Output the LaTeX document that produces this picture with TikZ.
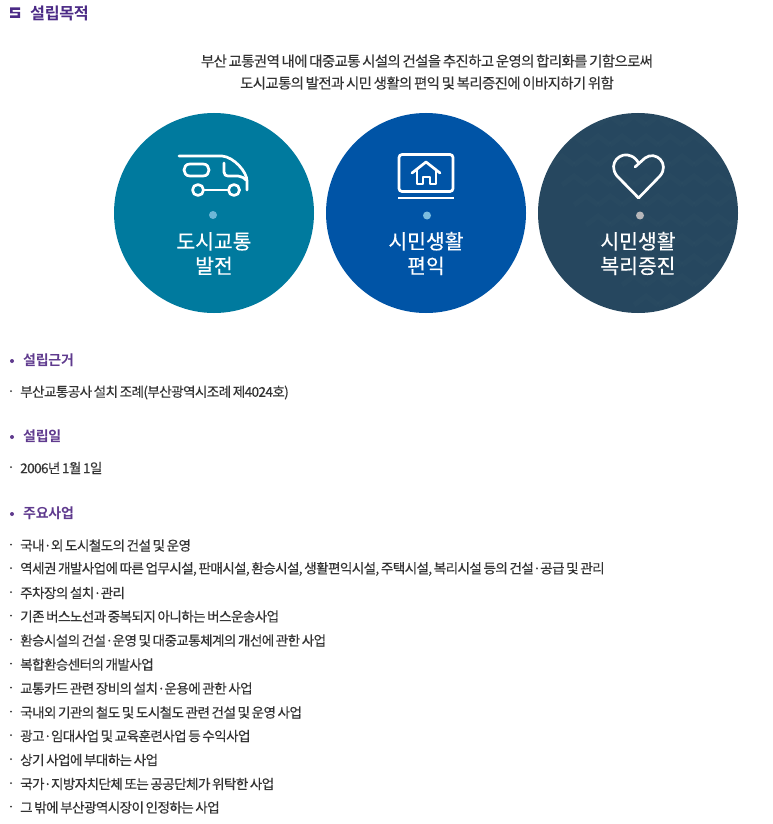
\documentclass[tikz,border=0pt]{standalone}
\usepackage{fontspec}
\setmainfont{Noto Sans CJK KR}[LetterSpace=-4.5,FakeBold=0.25,WordSpace=0.65]
\newfontfamily\boldkr{Noto Sans CJK KR}[LetterSpace=-2,BoldFont={Noto Sans CJK KR Bold}]
\newfontfamily\circlekr{Noto Sans CJK KR}[FakeBold=0.35]
\definecolor{bodytext}{HTML}{333333}
\definecolor{headpurple}{HTML}{5F3A8E}
\definecolor{titlepurple}{HTML}{4B2A86}
\definecolor{tealc}{HTML}{007A9E}
\definecolor{bluec}{HTML}{0054A6}
\definecolor{navyc}{HTML}{26475F}
\definecolor{dota}{HTML}{6DB6D6}
\definecolor{dotb}{HTML}{7CBDDF}
\definecolor{dotc}{HTML}{B7B7BA}
\tikzset{x=1pt,y=-1pt,
 bodyline/.style={anchor=west,inner sep=0pt,text=bodytext,font=\fontsize{13.58}{15}\selectfont},
 centerline/.style={anchor=center,inner sep=0pt,text=bodytext,font=\fontsize{14.47}{16}\selectfont},
 headline/.style={anchor=west,inner sep=0pt,text=headpurple,font=\boldkr\bfseries\fontsize{14}{16}\selectfont},
 circlelabel/.style={anchor=center,inner sep=0pt,text=white,align=center,font=\circlekr\fontsize{20.4}{24.5}\selectfont},
 icon/.style={draw=white,line width=2.7pt,line cap=round,line join=round},
 bulletdot/.style={circle,fill=headpurple,inner sep=0pt,minimum size=4pt},
 itemdot/.style={circle,fill=bodytext,inner sep=0pt,minimum size=2pt}
}
\begin{document}
\begin{tikzpicture}
\useasboundingbox (0,0) rectangle (772,824);
\fill[white] (0,0) rectangle (772,824);
% title
\fill[titlepurple] (10,7.5) rectangle (20,10) (10,7.5) rectangle (12.5,13.5) (10,12) rectangle (20,13.5) (17.5,12) rectangle (20,18) (10,15.5) rectangle (20,18);
\node[anchor=west,inner sep=0pt,text=titlepurple,font=\boldkr\bfseries\fontsize{16.2}{18}\selectfont] (title) at (30,13.5) {설립목적};
\node[centerline] (intro1) at (427,61) {부산 교통권역 내에 대중교통 시설의 건설을 추진하고 운영의 합리화를 기함으로써};
\node[centerline] (intro2) at (427,83) {도시교통의 발전과 시민 생활의 편익 및 복리증진에 이바지하기 위함};
% circles
\node[circle,fill=tealc,minimum size=200pt,inner sep=0pt] (c1) at (214,213) {};
\node[circle,fill=bluec,minimum size=200pt,inner sep=0pt] (c2) at (426,213) {};
\node[circle,fill=navyc,minimum size=200pt,inner sep=0pt] (c3) at (638,213) {};
\begin{scope}
\clip (638,213) circle (100);
\foreach \r in {0,...,9}\foreach \k in {0,...,9}
 \draw[white,opacity=.012,line width=5pt] (538+\k*24+\r*12-12,125+\r*20) -- ++(12,-9) -- ++(12,9);
\end{scope}
\node[circle,fill=dota,minimum size=8pt,inner sep=0pt] (d1) at (213,215) {};
\node[circle,fill=dotb,minimum size=8pt,inner sep=0pt] (d2) at (427,215.5) {};
\node[circle,fill=dotc,minimum size=8pt,inner sep=0pt] (d3) at (640,215.5) {};
\node[circlelabel] (l1) at (214,253.5) {도시교통\\발전};
\node[circlelabel] (l2) at (426,253.5) {시민생활\\편익};
\node[circlelabel] (l3) at (638,253.5) {시민생활\\복리증진};
% van
\draw[icon] (179,156) -- (222,156) .. controls (234,157) and (247,172) .. (247,181) -- (247,190);
\draw[icon] (190,164) -- (203,164) .. controls (211,164) and (211,176) .. (203,176) -- (190,176) .. controls (182,176) and (182,164) .. (190,164) -- cycle;
\draw[icon] (224,163) -- (224,172) .. controls (224,175) and (226,176) .. (228,176) -- (238,176) .. controls (242,177) and (245,178) .. (246,180);
\draw[icon] (198,190) circle (5.5);
\draw[icon] (234,190) circle (5.5);
\draw[icon] (203.5,190) -- (228.5,190);
% laptop
\draw[icon,rounded corners=3pt] (399,154.5) rectangle (453,191.5);
\draw[icon,line cap=butt] (398,198) -- (454,198);
\draw[icon] (412,173) -- (426,162) -- (440,173);
\draw[icon] (417,170) -- (417,184) -- (423,184) -- (423,177) -- (430,177) -- (430,184) -- (436,184) -- (436,170);
% heart
\draw[icon] (638.6,198) -- (617,176) .. controls (607,163) and (621,151) .. (631,156) .. controls (634,157) and (637,160) .. (638.5,163);
\draw[icon] (635,167) -- (645,158) .. controls (656,150) and (670,164) .. (660,176) -- (638.6,198);
% sections
\node[bulletdot] (b1) at (12,361) {};
\node[headline] (h1) at (23,360) {설립근거};
\node[itemdot] (i1) at (11,391) {};
\node[bodyline] (t1) at (20,392.5) {부산교통공사 설치 조례(부산광역시조례 제4024호)};
\node[bulletdot] (b2) at (12,437) {};
\node[headline] (h2) at (23,436) {설립일};
\node[itemdot] (i2) at (11,467) {};
\node[bodyline] (t2) at (20,468) {2006년 1월 1일};
\node[bulletdot] (b3) at (12,514) {};
\node[headline] (h3) at (23,513) {주요사업};
\foreach \n/\y/\s in {
 a/545.5/{국내·외 도시철도의 건설 및 운영},
 b/569/{역세권 개발사업에 따른 업무시설, 판매시설, 환승시설, 생활편익시설, 주택시설, 복리시설 등의 건설·공급 및 관리},
 c/593/{주차장의 설치·관리},
 d/616.5/{기존 버스노선과 중복되지 아니하는 버스운송사업},
 e/640.5/{환승시설의 건설·운영 및 대중교통체계의 개선에 관한 사업},
 f/664.5/{복합환승센터의 개발사업},
 g/688.5/{교통카드 관련 장비의 설치·운용에 관한 사업},
 h/712.5/{국내외 기관의 철도 및 도시철도 관련 건설 및 운영 사업},
 i/736/{광고·임대사업 및 교육훈련사업 등 수익사업},
 j/760/{상기 사업에 부대하는 사업},
 k/784/{국가·지방자치단체 또는 공공단체가 위탁한 사업},
 l/807.5/{그 밖에 부산광역시장이 인정하는 사업}}{
 \node[itemdot] (dot\n) at (11,\y-1) {};
 \node[bodyline] (item\n) at (20,\y) {\s};
}
\end{tikzpicture}
\end{document}
